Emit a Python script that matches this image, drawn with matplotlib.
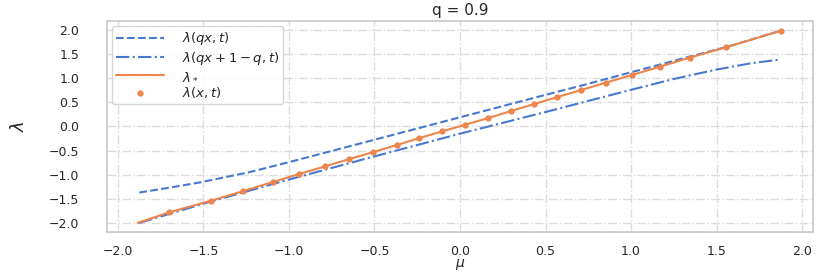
import matplotlib
matplotlib.use("Agg")
import matplotlib.pyplot as plt
import seaborn as sns

sns.set_theme(style="whitegrid", palette="muted")
plt.rcParams['font.family'] = ['DejaVu Sans']

# lambda_* line
mu_star = [-1.885, -1.70, -1.456, -1.267, -1.095, -0.94, -0.789, -0.647, -0.507, -0.37, -0.238,
           -0.105, 0.029, 0.162, 0.296, 0.431, 0.567, 0.708, 0.854, 1.004, 1.17, 1.345, 1.554, 1.875]
lam_star = [-2.0, -1.78, -1.54, -1.34, -1.152, -0.986, -0.828, -0.676, -0.531, -0.386, -0.241,
            -0.103, 0.034, 0.172, 0.317, 0.462, 0.607, 0.755, 0.91, 1.066, 1.24, 1.43, 1.64, 1.985]
# lambda(x, t) dots
mu_dots = mu_star[1:]
lam_dots = lam_star[1:]
# lambda(qx, t)
mu_qx = [-1.875, -1.7, -1.52, -1.228, -1.0, -0.5, 0.0, 0.5, 0.702, 0.975, 1.345, 1.56, 1.875]
lam_qx = [-1.37, -1.27, -1.16, -0.945, -0.74, -0.275, 0.19, 0.655, 0.84, 1.10, 1.45, 1.65, 1.985]
# lambda(qx + 1 - q, t)
mu_qx1 = [-1.875, -1.46, -1.0, -0.5, 0.0, 0.5, 1.0, 1.25, 1.5, 1.7, 1.875]
lam_qx1 = [-2.0, -1.56, -1.10, -0.62, -0.15, 0.30, 0.76, 0.985, 1.18, 1.31, 1.39]

blue = '#4878d0'
orange = '#ee854a'

fig = plt.figure(figsize=(8.31, 2.73), dpi=100)
ax = fig.add_axes([0.1288, 0.150, 0.8495, 0.773])

ax.plot(mu_qx, lam_qx, '--', color=blue, lw=1.5, label=r'$\lambda(qx, t)$')
ax.plot(mu_qx1, lam_qx1, '-.', color=blue, lw=1.5, label=r'$\lambda(qx + 1 - q, t)$')
ax.plot(mu_star, lam_star, '-', color=orange, lw=1.5, label=r'$\lambda_*$')
ax.plot(mu_dots, lam_dots, 'o', color=orange, ms=3.5, lw=0, label=r'$\lambda(x, t)$')

ax.set_xlim(-2.064, 2.064)
ax.set_ylim(-2.19, 2.187)
ax.set_xticks([-2.0, -1.5, -1.0, -0.5, 0.0, 0.5, 1.0, 1.5, 2.0])
ax.set_yticks([-2.0, -1.5, -1.0, -0.5, 0.0, 0.5, 1.0, 1.5, 2.0])
ax.tick_params(axis='both', labelsize=9, colors='#262626')
ax.tick_params(axis='y', pad=14)
ax.tick_params(axis='x', pad=3.5)
ax.grid(True, linestyle='-.', color='#dddddd', lw=1)
for s in ax.spines.values():
    s.set_color('#cccccc')
    s.set_linewidth(1.3)

ax.set_title('q = 0.9', fontsize=11, pad=4, color='#262626')
ax.set_xlabel(r'$\mu$', fontsize=10)
ax.xaxis.set_label_coords(0.5, -0.12)
ax.xaxis.label.set_va('top')
ax.set_ylabel(r'$\lambda$', fontsize=13)
ax.yaxis.set_label_coords(-0.112, 0.5)

ax.legend(loc='upper left', fontsize=9.5, handlelength=3.6, frameon=True,
          borderaxespad=0.4, labelspacing=0.2, handletextpad=1.4, borderpad=0.3)

fig.savefig('out.png', dpi=100)
